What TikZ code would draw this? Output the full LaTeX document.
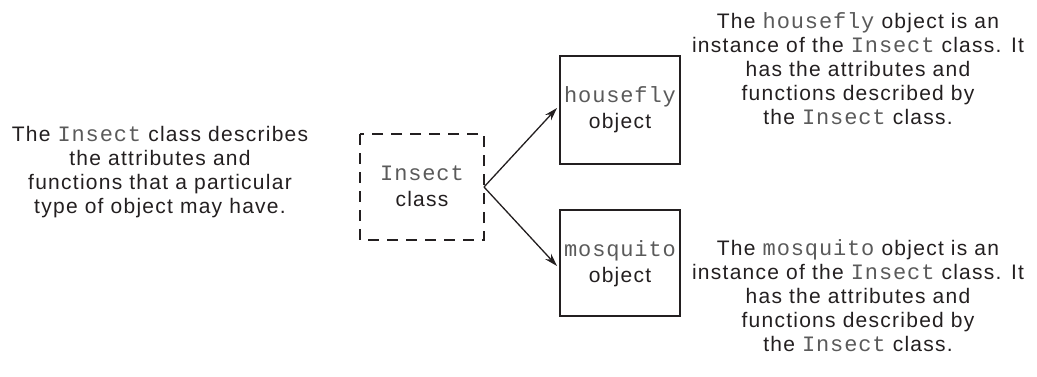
\documentclass[tikz,border=0pt]{standalone}
\usepackage{fontspec}
\setmainfont[LetterSpace=6]{Liberation Sans}
\newfontfamily\cdfont[LetterSpace=4]{Liberation Mono}
\usetikzlibrary{arrows.meta}
\definecolor{ink}{HTML}{231F20}
\definecolor{monoink}{HTML}{5A5A5A}
\newcommand{\cd}[1]{{\fontsize{22}{24}\selectfont\cdfont\color{monoink}#1}}
\tikzset{
  txt/.style={align=center, text=ink, font=\fontsize{21}{24}\selectfont, inner sep=0pt},
  boxtxt/.style={align=center, text=ink, font=\fontsize{21}{26}\selectfont, inner sep=0pt},
  classbox/.style={draw=ink, line width=1.4pt, dash pattern=on 11pt off 8pt},
  objbox/.style={draw=ink, line width=1.4pt},
  conn/.style={draw=ink, line width=1.3pt, -{Stealth[length=13pt,width=8pt]}}
}
\begin{document}
\begin{tikzpicture}[x=1pt,y=-1pt]
\useasboundingbox (0,0) rectangle (1037,376);
% boxes
\draw[classbox] (360,134) rectangle (484,240);
\coordinate (cls) at (484,187);
\node[boxtxt] (clstxt) at (422,186) {\cd{Insect}\\class};
\draw[objbox] (560,56) rectangle (680,164);
\coordinate (hfL) at (557,108);
\node[boxtxt] (hftxt) at (620,110) {\cd{housefly}\\object};
\draw[objbox] (560,210) rectangle (680,316);
\coordinate (mqL) at (557,266);
\node[boxtxt] (mqtxt) at (620,264) {\cd{mosquito}\\object};
% connectors
\draw[conn] (cls) -- (hfL);
\draw[conn] (cls) -- (mqL);
% texts
\node[txt] (ltxt) at (160,172) {The \cd{Insect} class describes\\the attributes and\\functions that a particular\\type of object may have.};
\node[txt] (rtop) at (858,69) {The \cd{housefly} object is an\\instance of the \cd{Insect} class. It\\has the attributes and\\functions described by\\the \cd{Insect} class.};
\node[txt] (rbot) at (858,296) {The \cd{mosquito} object is an\\instance of the \cd{Insect} class. It\\has the attributes and\\functions described by\\the \cd{Insect} class.};
\end{tikzpicture}
\end{document}
